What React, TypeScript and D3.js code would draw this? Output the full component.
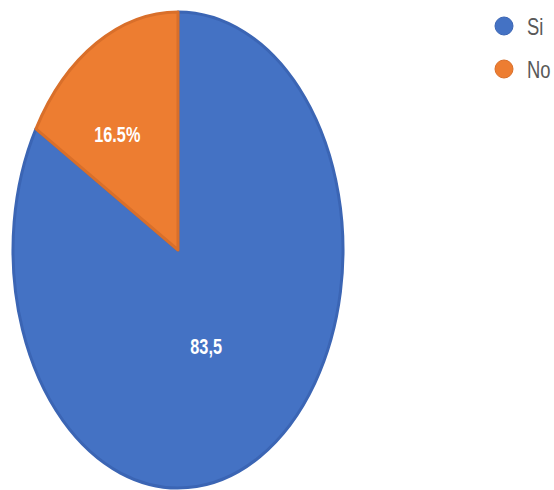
import React from "react";
import * as d3 from "d3";

const categories = ["Si", "No"];
const values = [83.5, 16.5];
const valueLabels = ["83,5", "16.5%"];
const colors = ["#4472C4", "#ED7D31"];
const strokeColors = ["#3B65B4", "#D96F2A"];

const W = 554;
const H = 490;

export default function App() {
  const cx = 178;
  const cy = 250;
  const ry = 238;
  const rx = 165;
  const sx = rx / ry;

  const pie = d3.pie<number>().sort(null).value((d) => d);
  const arcs = pie(values);
  const arc = d3.arc<d3.PieArcDatum<number>>().innerRadius(0).outerRadius(ry);
  const labelFactors = [0.43, 0.62];
  const labelNudge = [
    [-7, 7],
    [-10, 12],
  ];

  const legendX = 504;
  const legendY = d3.scalePoint<string>().domain(categories).range([26, 69]);

  return (
    <svg
      width={W}
      height={H}
      style={{ position: "absolute", left: 0, top: 0, background: "#fff" }}
    >
      <g transform={`translate(${cx},${cy}) scale(${sx},1)`}>
        {arcs.map((a, i) => (
          <path
            key={i}
            d={arc(a) || ""}
            fill={colors[i]}
            stroke={strokeColors[i]}
            strokeWidth={3}
            vectorEffect="non-scaling-stroke"
            strokeLinejoin="round"
          />
        ))}
      </g>
      {arcs.map((a, i) => {
        const r = ry * labelFactors[i];
        const la = d3.arc<d3.PieArcDatum<number>>().innerRadius(r).outerRadius(r);
        const [x, y] = la.centroid(a);
        return (
          <text
            key={i}
            transform={`translate(${cx + x * sx + labelNudge[i][0]},${cy + y + labelNudge[i][1]}) scale(0.74,1)`}
            textAnchor="middle"
            dominantBaseline="central"
            fill="#ffffff"
            fontFamily="Liberation Sans, Arial, sans-serif"
            fontWeight="bold"
            fontSize={22}
          >
            {valueLabels[i]}
          </text>
        );
      })}
      {categories.map((c, i) => (
        <g key={c} transform={`translate(${legendX},${legendY(c)})`}>
          <circle r={9} fill={colors[i]} stroke={strokeColors[i]} strokeWidth={1} />
          <text
            transform="translate(23,1) scale(0.8,1)"
            dominantBaseline="central"
            fill="#595959"
            fontFamily="Liberation Sans, Arial, sans-serif"
            fontSize={23}
          >
            {c}
          </text>
        </g>
      ))}
    </svg>
  );
}
